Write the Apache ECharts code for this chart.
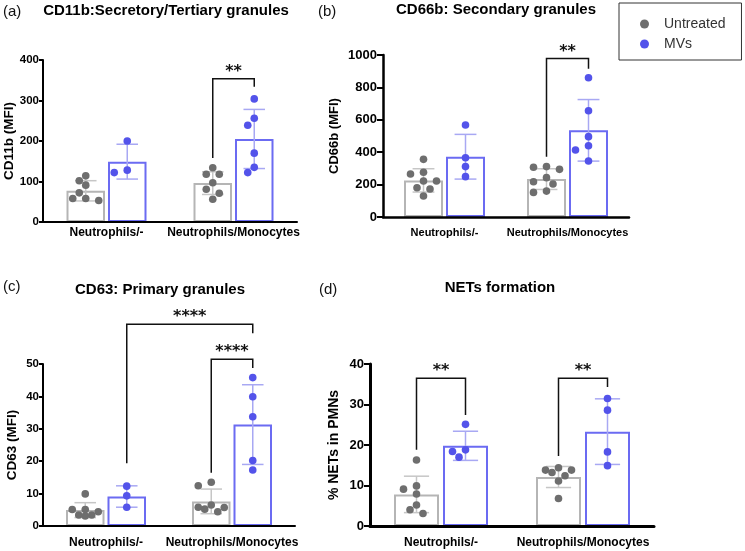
<!DOCTYPE html>
<html><head><meta charset="utf-8">
<script src="https://cdn.jsdelivr.net/npm/echarts@6/dist/echarts.min.js"></script>
<style>html,body{margin:0;padding:0;background:#fff}#c{width:745px;height:551px}</style>
</head><body><div id="c"></div>
<script>
// ---------------- DATA ----------------
const categories = ['Neutrophils/-', 'Neutrophils/Monocytes'];
const groupNames = ['Untreated', 'MVs'];

// (a) CD11b
const cd11bUntreatedPoints = [[114,102,91,72,58,58,53],[134,118,118,97,81,71,56]];
const cd11bMVsPoints = [[200,128,122],[304,256,239,170,135,122]];
const cd11bUntreatedMean = [77, 96];
const cd11bUntreatedSD = [25, 28];
const cd11bMVsMean = [149, 205];
const cd11bMVsSD = [43, 73];
const cd11bTicks = [0, 100, 200, 300, 400];
// [fromCategory, fromGroup, toCategory, toGroup, top, fromEnd, toEnd, label]
const cd11bBrackets = [[1,0,1,1,354,158,334,'**']];

// (b) CD66b
const cd66bUntreatedPoints = [[356,276,265,222,222,181,173,130],[311,307,294,243,218,204,160,152]];
const cd66bMVsPoints = [[568,366,311,249],[860,656,496,440,414,346]];
const cd66bUntreatedMean = [226, 234];
const cd66bUntreatedSD = [72, 64];
const cd66bMVsMean = [372, 535];
const cd66bMVsSD = [138, 190];
const cd66bTicks = [0, 200, 400, 600, 800, 1000];
const cd66bBrackets = [[1,0,1,1,978,372,915,'**']];

// (c) CD63
const cd63UntreatedPoints = [[9.9,5.1,5.1,4.4,3.4,3.4,3.1],[13.5,12.4,6.5,5.8,5.7,5.2,4.4]];
const cd63MVsPoints = [[12.3,9.3,5.8],[45.8,39.9,33.7,20.2,17.3]];
const cd63UntreatedMean = [4.9, 7.6];
const cd63UntreatedSD = [2.3, 3.8];
const cd63MVsMean = [9.1, 31.3];
const cd63MVsSD = [3.3, 12.3];
const cd63Ticks = [0, 10, 20, 30, 40, 50];
const cd63Brackets = [[0,1,1,1,62.3,19.4,59.5,'****'],[1,0,1,1,51.5,16.4,48.8,'****']];

// (d) NETs
const netsUntreatedPoints = [[16.3,9.9,9.1,7.9,5.2,4.0,3.1],[14.4,13.8,13.8,13.2,12.4,11.1,6.8]];
const netsMVsPoints = [[25.1,18.8,18.4,17.0],[31.5,28.6,18.3,14.9]];
const netsUntreatedMean = [7.8, 12.1];
const netsUntreatedSD = [4.5, 2.6];
const netsMVsMean = [19.8, 23.3];
const netsMVsSD = [3.6, 8.1];
const netsTicks = [0, 10, 20, 30, 40];
const netsBrackets = [[0,0,0,1,36.5,18.8,27.4,'**'],[1,0,1,1,36.5,17.3,34.3,'**']];

// ---------------- STYLE / LAYOUT ----------------
const FONT = 'Liberation Sans';
const STAR_FONT = 'DejaVu Sans';
const DOT = ['#6e6e6e', '#5353ea'];
const BAR = ['#b5b5b5', '#6b6bf2'];
const ERR = ['#c6c6c6', '#a8a8f3'];
const R = 3.8;

const panels = [
  {tag:'(a)', title:'CD11b:Secretory/Tertiary granules', yName:'CD11b (MFI)',
   pts:[cd11bUntreatedPoints, cd11bMVsPoints], mean:[cd11bUntreatedMean, cd11bMVsMean], sd:[cd11bUntreatedSD, cd11bMVsSD],
   ticks:cd11bTicks, brackets:cd11bBrackets,
   L:{grid:{left:43,top:60,width:254,height:162}, bw:38.5, gap:3, tag:[3,4], tx:166, ty:3,
      tickFont:11.5, tickMargin:4, tickLen:4, nameFont:13.5, nameGap:27, catFont:12, catMargin:4.5, axisW:2}},
  {tag:'(b)', title:'CD66b: Secondary granules', yName:'CD66b (MFI)',
   pts:[cd66bUntreatedPoints, cd66bMVsPoints], mean:[cd66bUntreatedMean, cd66bMVsMean], sd:[cd66bUntreatedSD, cd66bMVsSD],
   ticks:cd66bTicks, brackets:cd66bBrackets,
   L:{grid:{left:383,top:55,width:246,height:162}, bw:39, gap:3, tag:[318,4], tx:496, ty:2,
      tickFont:13, tickMargin:6, tickLen:6, nameFont:13, nameGap:42, catFont:11, catMargin:10, axisW:2.5}},
  {tag:'(c)', title:'CD63: Primary granules', yName:'CD63 (MFI)',
   pts:[cd63UntreatedPoints, cd63MVsPoints], mean:[cd63UntreatedMean, cd63MVsMean], sd:[cd63UntreatedSD, cd63MVsSD],
   ticks:cd63Ticks, brackets:cd63Brackets,
   L:{grid:{left:43,top:364,width:252,height:162}, bw:38.5, gap:3, tag:[3,279.5], tx:160, ty:282,
      tickFont:11.5, tickMargin:4, tickLen:4, nameFont:13.5, nameGap:24, catFont:12, catMargin:10.5, axisW:2}},
  {tag:'(d)', title:'NETs formation', yName:'% NETs in PMNs',
   pts:[netsUntreatedPoints, netsMVsPoints], mean:[netsUntreatedMean, netsMVsMean], sd:[netsUntreatedSD, netsMVsSD],
   ticks:netsTicks, brackets:netsBrackets,
   L:{grid:{left:370,top:364,width:284,height:162}, bw:45, gap:4, tag:[319,282], tx:500, ty:280.5,
      tickFont:13, tickMargin:6, tickLen:6, nameFont:14, nameGap:28.5, catFont:12, catMargin:11, axisW:3}}
];

function sideOff(L, g) { const h = (L.bw + L.gap) / 2; return g === 0 ? -h : h; }

// beeswarm: greedy placement in pixel space
function swarm(ys, L) {
  const s = 6.5, minD = 7.8, maxOff = L.bw / 2 - R + 2;
  const order = ys.map((y, i) => i).sort((a, b) => ys[a] - ys[b]);
  const cands = [0];
  for (let k = 1; k * s <= maxOff; k++) { cands.push(-k * s, k * s); }
  const placed = []; const off = new Array(ys.length).fill(0);
  order.forEach(i => {
    let best = null, bestClear = -1;
    for (const c of cands) {
      let clear = Infinity;
      placed.forEach(p => { const d = Math.hypot(p.x - c, p.y - ys[i]); if (d < clear) clear = d; });
      if (clear >= minD) { best = c; bestClear = clear; break; }
      if (clear > bestClear + 0.01) { bestClear = clear; best = c; }
    }
    off[i] = best; placed.push({x: best, y: ys[i]});
  });
  return off;
}

const option = {
  animation: false,
  backgroundColor: '#fff',
  title: [], grid: [], xAxis: [], yAxis: [], series: [],
  legend: {
    orient: 'vertical', left: 619, top: 3, selectedMode: false,
    data: [{name: 'Untreated', icon: 'circle'}, {name: 'MVs', icon: 'circle'}],
    itemWidth: 9, itemHeight: 9, itemGap: 6,
    padding: [14, 16, 9, 21],
    borderColor: '#333', borderWidth: 1,
    textStyle: {fontFamily: 'Liberation Sans', fontSize: 14, color: '#333', padding: [0, 0, 0, 10]}
  }
};

panels.forEach((P, pi) => {
  const L = P.L;
  option.title.push({text: P.tag, left: L.tag[0], top: L.tag[1], padding: 0,
    textStyle: {fontFamily: 'Liberation Sans', fontWeight: 'normal', fontSize: 15, color: '#111'}});
  option.title.push({text: P.title, left: L.tx, top: L.ty, textAlign: 'center', padding: 0,
    textStyle: {fontFamily: FONT, fontWeight: 'bold', fontSize: 15, color: '#000'}});
  option.grid.push(Object.assign({containLabel: false}, L.grid));
  option.xAxis.push({
    type: 'category', gridIndex: pi, data: categories, z: 10,
    axisLine: {lineStyle: {color: '#000', width: L.axisW}},
    axisTick: {alignWithLabel: true, length: 5, lineStyle: {color: '#000', width: 2}},
    axisLabel: {interval: 0, margin: L.catMargin, fontFamily: FONT, fontWeight: 'bold', fontSize: L.catFont, color: '#000'},
    splitLine: {show: false}
  });
  const t = P.ticks;
  option.yAxis.push({
    type: 'value', gridIndex: pi, min: t[0], max: t[t.length - 1], interval: t[1] - t[0], z: 10,
    name: P.yName, nameLocation: 'middle', nameGap: L.nameGap,
    nameTextStyle: {fontFamily: FONT, fontWeight: 'bold', fontSize: L.nameFont, color: '#000'},
    axisLine: {show: true, lineStyle: {color: '#000', width: L.axisW}},
    axisTick: {show: true, length: L.tickLen, lineStyle: {color: '#000', width: 2}},
    axisLabel: {margin: L.tickMargin, fontFamily: FONT, fontWeight: 'bold', fontSize: L.tickFont, color: '#000',
                formatter: v => String(v)},
    splitLine: {show: false}
  });
  // bars
  [0, 1].forEach(g => {
    option.series.push({
      type: 'bar', name: groupNames[g] + ' mean', xAxisIndex: pi, yAxisIndex: pi,
      data: P.mean[g], barWidth: L.bw, barGap: (L.gap / L.bw * 100) + '%', z: 2,
      itemStyle: {color: 'rgba(255,255,255,0)', borderColor: BAR[g], borderWidth: 2},
      emphasis: {disabled: true}
    });
  });
  // error bars
  [0, 1].forEach(g => {
    option.series.push({
      type: 'custom', name: groupNames[g] + ' sd', xAxisIndex: pi, yAxisIndex: pi, z: 3, clip: false,
      data: P.mean[g].map((m, c) => [c, m, P.sd[g][c]]),
      renderItem: (params, api) => {
        const c = api.value(0), m = api.value(1), s = api.value(2);
        const x = api.coord([c, m])[0] + sideOff(L, g);
        const yt = api.coord([c, m + s])[1], yb = api.coord([c, Math.max(m - s, 0)])[1];
        const h = L.bw * 0.28;
        const st = {stroke: ERR[g], lineWidth: 1.5};
        return {type: 'group', children: [
          {type: 'line', shape: {x1: x, y1: yt, x2: x, y2: yb}, style: st},
          {type: 'line', shape: {x1: x - h, y1: yt, x2: x + h, y2: yt}, style: st},
          {type: 'line', shape: {x1: x - h, y1: yb, x2: x + h, y2: yb}, style: st}
        ]};
      }
    });
  });
  // dots
  [0, 1].forEach(g => {
    const data = [];
    P.pts[g].forEach((arr, c) => arr.forEach((v, k) => data.push([c, v, k])));
    option.series.push({
      type: 'custom', name: groupNames[g], xAxisIndex: pi, yAxisIndex: pi, z: 4, clip: false,
      itemStyle: {color: DOT[g]},
      data: data,
      renderItem: (params, api) => {
        const c = api.value(0), v = api.value(1), k = api.value(2);
        const ys = P.pts[g][c].map(val => api.coord([c, val])[1]);
        const off = swarm(ys, L);
        const p = api.coord([c, v]);
        return {type: 'circle', shape: {cx: p[0] + sideOff(L, g) + off[k], cy: p[1], r: R},
                style: {fill: DOT[g]}};
      }
    });
  });
  // significance brackets
  option.series.push({
    type: 'custom', name: 'sig', xAxisIndex: pi, yAxisIndex: pi, z: 5, clip: false,
    data: P.brackets.map(b => b.slice(0, 7)),
    renderItem: (params, api) => {
      const b = P.brackets[params.dataIndex];
      const xa = api.coord([b[0], 0])[0] + sideOff(L, b[1]);
      const xb = api.coord([b[2], 0])[0] + sideOff(L, b[3]);
      const yt = api.coord([0, b[4]])[1], ya = api.coord([0, b[5]])[1], yb = api.coord([0, b[6]])[1];
      return {type: 'group', children: [
        {type: 'polyline', shape: {points: [[xa, ya], [xa, yt], [xb, yt], [xb, yb]]},
         style: {stroke: '#111', lineWidth: 1.5, fill: null}},
        {type: 'text', x: (xa + xb) / 2, y: yt - 7,
         style: {text: b[7], fontFamily: STAR_FONT, fontWeight: 'bold', fontSize: 16, fill: '#111',
                 align: 'center', verticalAlign: 'middle'}}
      ]};
    }
  });
});

const chart = echarts.init(document.getElementById('c'));
chart.setOption(option);
</script>
</body></html>
